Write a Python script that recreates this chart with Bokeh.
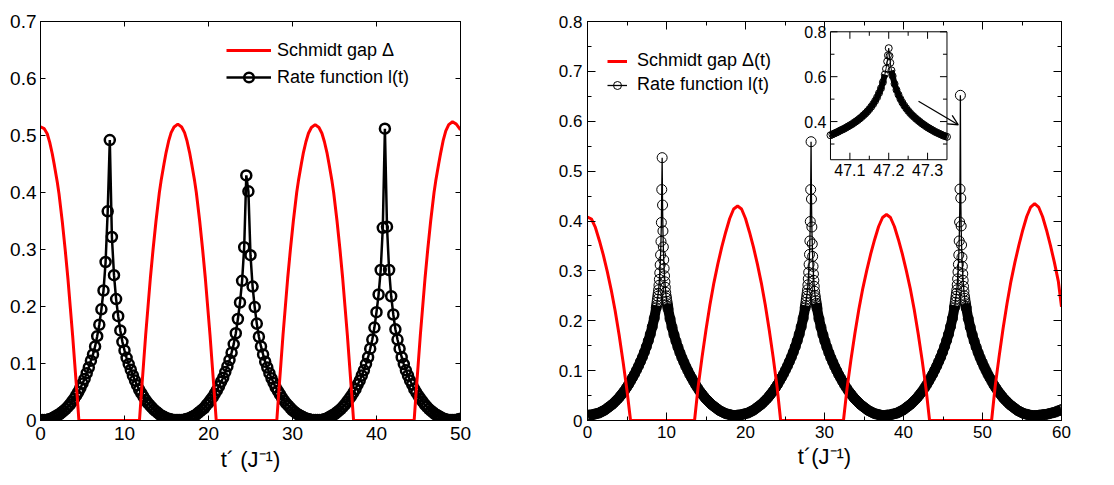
import numpy as np
from bokeh.plotting import figure
from bokeh.layouts import row
from bokeh.models import (Range1d, LinearAxis, FixedTicker, SingleIntervalTicker,
                          CustomJSTickFormatter, Legend, LegendItem, Arrow, OpenHead)
from bokeh.embed import file_html
from bokeh.resources import INLINE
from bokeh.core.properties import value

FONT = "Liberation Sans"

# ---------------- left panel data ----------------
GAP_L_T = [0, 0.45, 0.8, 1.1, 1.4, 1.65, 2.0, 2.2, 2.6, 2.95, 3.27, 3.55, 3.83, 4.08, 4.33, 4.57,
           11.78, 12.02, 12.27, 12.52, 12.8, 13.08, 13.4, 13.75, 14.15, 14.35, 14.7, 14.95, 15.25, 15.55, 15.9,
           16.35, 16.8, 17.15, 17.45, 17.75, 18.0, 18.35, 18.55, 18.95, 19.3, 19.62, 19.9, 20.18, 20.43, 20.68, 20.92,
           28.13, 28.37, 28.62, 28.87, 29.15, 29.43, 29.75, 30.1, 30.5, 30.7, 31.05, 31.3, 31.6, 31.9, 32.25,
           32.7, 33.15, 33.5, 33.8, 34.1, 34.35, 34.7, 34.9, 35.3, 35.65, 35.97, 36.25, 36.53, 36.78, 37.03, 37.27,
           44.48, 44.72, 44.97, 45.22, 45.5, 45.78, 46.1, 46.45, 46.85, 47.05, 47.4, 47.65, 47.95, 48.25, 48.6,
           49.05, 49.5, 50.0]
GAP_L = [0.515, 0.512, 0.503, 0.488, 0.468, 0.448, 0.418, 0.398, 0.348, 0.298, 0.248, 0.198, 0.148, 0.099, 0.05, 0.0,
         0, 0.05, 0.1, 0.15, 0.2, 0.25, 0.3, 0.35, 0.4, 0.42, 0.45, 0.47, 0.49, 0.505, 0.515,
         0.52, 0.515, 0.505, 0.49, 0.47, 0.45, 0.42, 0.4, 0.35, 0.3, 0.25, 0.2, 0.15, 0.1, 0.05, 0,
         0, 0.05, 0.1, 0.15, 0.2, 0.25, 0.3, 0.35, 0.4, 0.42, 0.45, 0.47, 0.489, 0.504, 0.514,
         0.519, 0.514, 0.504, 0.489, 0.47, 0.45, 0.42, 0.4, 0.35, 0.3, 0.25, 0.2, 0.15, 0.1, 0.05, 0,
         0, 0.05, 0.1, 0.15, 0.2, 0.25, 0.3, 0.35, 0.4, 0.42, 0.45, 0.47, 0.492, 0.508, 0.519,
         0.524, 0.52, 0.51]

RATE_L_T = [0, 0.25, 0.5, 0.75, 1, 1.25, 1.5, 1.75,
            2, 2.25, 2.5, 2.75, 3, 3.25, 3.5, 3.75,
            4, 4.25, 4.5, 4.75, 5, 5.25, 5.5, 5.75,
            6, 6.25, 6.5, 6.75, 7, 7.25, 7.5, 7.75,
            8, 8.25, 8.5, 8.75, 9, 9.25, 9.5, 9.75,
            10, 10.25, 10.5, 10.75, 11, 11.25, 11.5, 11.75,
            12, 12.25, 12.5, 12.75, 13, 13.25, 13.5, 13.75,
            14, 14.25, 14.5, 14.75, 15, 15.25, 15.5, 15.75,
            16, 16.25, 16.5, 16.75, 17, 17.25, 17.5, 17.75,
            18, 18.25, 18.5, 18.75, 19, 19.25, 19.5, 19.75,
            20, 20.25, 20.5, 20.75, 21, 21.25, 21.5, 21.75,
            22, 22.25, 22.5, 22.75, 23, 23.25, 23.5, 23.75,
            24, 24.25, 24.5, 24.75, 25, 25.25, 25.5, 25.75,
            26, 26.25, 26.5, 26.75, 27, 27.25, 27.5, 27.75,
            28, 28.25, 28.5, 28.75, 29, 29.25, 29.5, 29.75,
            30, 30.25, 30.5, 30.75, 31, 31.25, 31.5, 31.75,
            32, 32.25, 32.5, 32.75, 33, 33.25, 33.5, 33.75,
            34, 34.25, 34.5, 34.75, 35, 35.25, 35.5, 35.75,
            36, 36.25, 36.5, 36.75, 37, 37.25, 37.5, 37.75,
            38, 38.25, 38.5, 38.75, 39, 39.25, 39.5, 39.75,
            40, 40.25, 40.5, 40.75, 41, 41.25, 41.5, 41.75,
            42, 42.25, 42.5, 42.75, 43, 43.25, 43.5, 43.75,
            44, 44.25, 44.5, 44.75, 45, 45.25, 45.5, 45.75,
            46, 46.25, 46.5, 46.75, 47, 47.25, 47.5, 47.75,
            48, 48.25, 48.5, 48.75, 49, 49.25, 49.5, 49.75,
            50]
RATE_L = [0.001, 0.001, 0.001, 0.001, 0.002, 0.003, 0.005, 0.007,
          0.009, 0.011, 0.014, 0.017, 0.020, 0.024, 0.028, 0.033,
          0.038, 0.044, 0.050, 0.057, 0.065, 0.073, 0.083, 0.093,
          0.105, 0.116, 0.130, 0.148, 0.168, 0.195, 0.228, 0.278,
          0.367, 0.492, 0.322, 0.255, 0.213, 0.183, 0.158, 0.138,
          0.123, 0.110, 0.099, 0.089, 0.079, 0.070, 0.062, 0.054,
          0.048, 0.042, 0.036, 0.031, 0.027, 0.023, 0.019, 0.016,
          0.013, 0.010, 0.008, 0.006, 0.004, 0.003, 0.002, 0.001,
          0.001, 0.001, 0.001, 0.001, 0.001, 0.002, 0.003, 0.004,
          0.006, 0.008, 0.010, 0.013, 0.016, 0.019, 0.022, 0.027,
          0.031, 0.036, 0.041, 0.047, 0.053, 0.060, 0.068, 0.075,
          0.085, 0.095, 0.106, 0.119, 0.134, 0.153, 0.178, 0.207,
          0.245, 0.304, 0.430, 0.402, 0.290, 0.235, 0.199, 0.170,
          0.147, 0.130, 0.116, 0.103, 0.093, 0.083, 0.074, 0.066,
          0.058, 0.052, 0.046, 0.040, 0.035, 0.030, 0.026, 0.022,
          0.018, 0.015, 0.012, 0.010, 0.008, 0.006, 0.004, 0.003,
          0.002, 0.001, 0.001, 0.001, 0.001, 0.001, 0.001, 0.002,
          0.003, 0.005, 0.007, 0.009, 0.011, 0.014, 0.017, 0.020,
          0.024, 0.028, 0.033, 0.038, 0.043, 0.049, 0.055, 0.063,
          0.070, 0.079, 0.088, 0.099, 0.111, 0.126, 0.142, 0.163,
          0.190, 0.221, 0.264, 0.338, 0.512, 0.340, 0.264, 0.218,
          0.186, 0.160, 0.142, 0.126, 0.111, 0.099, 0.088, 0.079,
          0.070, 0.063, 0.055, 0.049, 0.043, 0.038, 0.033, 0.028,
          0.024, 0.020, 0.017, 0.014, 0.011, 0.009, 0.007, 0.005,
          0.003, 0.002, 0.001, 0.001, 0.001, 0.001, 0.001, 0.002,
          0.003]
X_TICKS_L = [0, 10, 20, 30, 40, 50]
Y_TICKS_L = [0, 0.1, 0.2, 0.3, 0.4, 0.5, 0.6, 0.7]

# ---------------- right panel data ----------------
GAP_R_T = [0, 0.5, 1.0, 1.5, 2.0, 2.5, 3.0, 3.5, 4.0, 4.5, 5.0, 5.45,
           13.55, 14.0, 14.5, 15.0, 15.5, 16.0, 16.5, 17.0, 17.5, 18.0, 18.5, 19.0, 19.5, 20.0, 20.5, 21.0,
           21.5, 22.0, 22.5, 23.0, 23.5, 24.0, 24.45,
           32.4, 32.85, 33.35, 33.85, 34.35, 34.85, 35.35, 35.85, 36.35, 36.85, 37.35, 37.85, 38.35, 38.85,
           39.35, 39.85, 40.35, 40.85, 41.35, 41.85, 42.35, 42.85, 43.3,
           51.15, 51.6, 52.1, 52.6, 53.1, 53.6, 54.1, 54.6, 55.1, 55.6, 56.1, 56.6, 57.1, 57.6, 58.1, 58.6,
           59.1, 59.6, 60.0]
GAP_R = [0.408, 0.404, 0.387, 0.361, 0.332, 0.299, 0.262, 0.220, 0.172, 0.118, 0.060, 0.0,
         0, 0.067, 0.127, 0.182, 0.232, 0.276, 0.314, 0.348, 0.378, 0.405, 0.424, 0.430, 0.424, 0.405, 0.378, 0.348,
         0.314, 0.276, 0.232, 0.182, 0.127, 0.067, 0,
         0, 0.064, 0.122, 0.175, 0.223, 0.265, 0.301, 0.334, 0.363, 0.389, 0.407, 0.413, 0.407, 0.389,
         0.363, 0.334, 0.301, 0.265, 0.223, 0.175, 0.122, 0.064, 0,
         0, 0.068, 0.128, 0.184, 0.234, 0.279, 0.317, 0.351, 0.382, 0.409, 0.428, 0.435, 0.428, 0.409, 0.382, 0.351,
         0.317, 0.279, 0.228]

RATE_R_T = [
    # 0 .. first cusp
    0, 0.2, 0.45, 0.7, 0.95, 1.2, 1.45, 1.7, 1.95, 2.2, 2.45, 2.7, 2.95, 3.2, 3.45, 3.7, 3.95, 4.2, 4.45,
    4.7, 4.95, 5.2, 5.45, 5.7, 5.95, 6.2, 6.45, 6.7, 6.95, 7.2, 7.45, 7.7, 7.95, 8.2, 8.45, 8.7,
    8.75, 8.8, 8.85, 8.9, 8.95,
    # cusp 1
    9.0, 9.05, 9.1, 9.15, 9.2, 9.25, 9.3, 9.35, 9.4, 9.45, 9.5, 9.55, 9.6, 9.65, 9.7, 9.75, 9.8, 9.85, 9.9,
    # between cusp 1 and 2
    9.95, 10.0, 10.05, 10.1, 10.15,
    10.2, 10.45, 10.7, 10.95, 11.2, 11.45, 11.7, 11.95, 12.2, 12.45, 12.7, 12.95, 13.2, 13.45, 13.7,
    13.95, 14.2, 14.45, 14.7, 14.95, 15.2, 15.45, 15.7, 15.95, 16.2, 16.45, 16.7, 16.95, 17.2, 17.45, 17.7,
    17.95, 18.2, 18.45, 18.7,
    19.05, 19.3, 19.55, 19.8, 20.05, 20.3, 20.55, 20.8, 21.05, 21.3, 21.55, 21.8, 22.05, 22.3, 22.55, 22.8,
    23.05, 23.3, 23.55, 23.8, 24.05, 24.3, 24.55, 24.8, 25.05, 25.3, 25.55, 25.8, 26.05, 26.3, 26.55, 26.8,
    27.05, 27.3, 27.55, 27.6, 27.65, 27.7, 27.75, 27.8,
    # cusp 2
    27.85, 27.9, 27.95, 28.0, 28.05, 28.1, 28.15, 28.2, 28.25, 28.3, 28.35, 28.4, 28.45, 28.5, 28.55, 28.6,
    28.65, 28.7, 28.75,
    # between cusp 2 and 3
    28.8, 28.85, 28.9, 28.95, 29.0,
    29.05, 29.3, 29.55, 29.8, 30.05, 30.3, 30.55, 30.8, 31.05, 31.3, 31.55, 31.8, 32.05, 32.3, 32.55,
    32.8, 33.05, 33.3, 33.55, 33.8, 34.05, 34.3, 34.55, 34.8, 35.05, 35.3, 35.55, 35.8, 36.05, 36.3, 36.55,
    36.8, 37.05, 37.3, 37.55,
    37.95, 38.2, 38.45, 38.7, 38.95, 39.2, 39.45, 39.7, 39.95, 40.2, 40.45, 40.7, 40.95, 41.2, 41.45, 41.7,
    41.95, 42.2, 42.45, 42.7, 42.95, 43.2, 43.45, 43.7, 43.95, 44.2, 44.45, 44.7, 44.95, 45.2, 45.45, 45.7,
    45.95, 46.2, 46.45, 46.5, 46.55, 46.6, 46.65, 46.7,
    # cusp 3
    46.75, 46.8, 46.85, 46.9, 46.95, 47.0, 47.05, 47.1, 47.15, 47.2, 47.25, 47.3, 47.35, 47.4, 47.45, 47.5,
    47.55, 47.6, 47.65,
    # after cusp 3
    47.7, 47.75, 47.8, 47.85, 47.9,
    47.95, 48.2, 48.45, 48.7, 48.95, 49.2, 49.45, 49.7, 49.95, 50.2, 50.45, 50.7, 50.95, 51.2, 51.45,
    51.7, 51.95, 52.2, 52.45, 52.7, 52.95, 53.2, 53.45, 53.7, 53.95, 54.2, 54.45, 54.7, 54.95, 55.2, 55.45,
    55.7, 55.95, 56.2, 56.45,
    56.75, 57.0, 57.25, 57.5, 57.75, 58.0, 58.25, 58.5, 58.75, 59.0, 59.25, 59.5, 59.75, 60.0]
RATE_R = [
    0.010, 0.011, 0.011, 0.012, 0.013, 0.014, 0.015, 0.017, 0.019, 0.021, 0.024, 0.027, 0.030, 0.033, 0.037, 0.041,
    0.045, 0.050, 0.055, 0.060, 0.066, 0.072, 0.079, 0.086, 0.093, 0.101, 0.109, 0.118, 0.127, 0.137, 0.148, 0.160,
    0.173, 0.188, 0.205, 0.226,
    0.231, 0.237, 0.243, 0.249, 0.255,
    0.262, 0.271, 0.283, 0.296, 0.312, 0.332, 0.359, 0.397, 0.463, 0.527, 0.432, 0.380, 0.348, 0.322, 0.305, 0.290,
    0.278, 0.267, 0.257,
    0.250, 0.245, 0.239, 0.234, 0.229,
    0.224, 0.204, 0.187, 0.172, 0.159, 0.147, 0.136, 0.126, 0.117, 0.108, 0.100, 0.092, 0.085, 0.078, 0.071,
    0.065, 0.059, 0.054, 0.049, 0.044, 0.040, 0.036, 0.032, 0.029, 0.026, 0.023, 0.020, 0.018, 0.016, 0.014, 0.013,
    0.012, 0.011, 0.010, 0.010,
    0.011, 0.011, 0.012, 0.013, 0.014, 0.015, 0.017, 0.019, 0.021, 0.024, 0.027, 0.030, 0.033, 0.037, 0.041, 0.045,
    0.050, 0.055, 0.060, 0.066, 0.072, 0.079, 0.086, 0.093, 0.101, 0.109, 0.118, 0.127, 0.137, 0.148, 0.160, 0.173,
    0.188, 0.205, 0.226, 0.231, 0.237, 0.243, 0.249, 0.255,
    0.262, 0.272, 0.284, 0.297, 0.313, 0.333, 0.360, 0.399, 0.463, 0.559, 0.444, 0.388, 0.354, 0.329, 0.309, 0.294,
    0.281, 0.269, 0.259,
    0.251, 0.246, 0.240, 0.235, 0.230,
    0.225, 0.204, 0.187, 0.172, 0.159, 0.147, 0.136, 0.126, 0.117, 0.108, 0.100, 0.092, 0.085, 0.078, 0.071,
    0.065, 0.059, 0.054, 0.049, 0.044, 0.040, 0.036, 0.032, 0.029, 0.026, 0.023, 0.020, 0.018, 0.016, 0.014, 0.013,
    0.012, 0.011, 0.010, 0.010,
    0.011, 0.011, 0.012, 0.013, 0.014, 0.015, 0.017, 0.019, 0.021, 0.024, 0.027, 0.030, 0.033, 0.037, 0.041, 0.045,
    0.050, 0.055, 0.060, 0.066, 0.072, 0.079, 0.086, 0.093, 0.101, 0.109, 0.118, 0.127, 0.137, 0.148, 0.160, 0.173,
    0.188, 0.205, 0.226, 0.231, 0.237, 0.243, 0.249, 0.255,
    0.262, 0.272, 0.284, 0.298, 0.313, 0.332, 0.360, 0.398, 0.464, 0.652, 0.446, 0.390, 0.352, 0.327, 0.309, 0.294,
    0.281, 0.269, 0.259,
    0.250, 0.245, 0.239, 0.234, 0.229,
    0.225, 0.204, 0.187, 0.172, 0.159, 0.147, 0.136, 0.126, 0.117, 0.108, 0.100, 0.092, 0.085, 0.078, 0.071,
    0.065, 0.059, 0.054, 0.049, 0.044, 0.040, 0.036, 0.032, 0.029, 0.026, 0.023, 0.020, 0.018, 0.016, 0.014, 0.013,
    0.012, 0.011, 0.010, 0.010,
    0.010, 0.010, 0.011, 0.011, 0.012, 0.012, 0.013, 0.014, 0.015, 0.016, 0.017, 0.019, 0.020, 0.022]

INSET_T = [47.05, 47.055, 47.06, 47.065, 47.07, 47.075, 47.08, 47.085, 47.09, 47.095, 47.1, 47.105, 47.11,
           47.115, 47.12, 47.125, 47.13, 47.135, 47.14, 47.145, 47.15, 47.155, 47.16, 47.165, 47.17, 47.175,
           47.18, 47.185, 47.19, 47.193, 47.196, 47.198, 47.2, 47.202, 47.204, 47.207, 47.21,
           47.215, 47.22, 47.225, 47.23, 47.235, 47.24, 47.245, 47.25, 47.255, 47.26, 47.265, 47.27, 47.275,
           47.28, 47.285, 47.29, 47.295, 47.3, 47.305, 47.31, 47.315, 47.32, 47.325, 47.33, 47.335, 47.34,
           47.345, 47.35]
INSET_RATE = [0.339, 0.343, 0.347, 0.351, 0.355, 0.360, 0.364, 0.368, 0.373, 0.378, 0.383, 0.388, 0.394,
              0.400, 0.406, 0.413, 0.420, 0.428, 0.436, 0.445, 0.455, 0.466, 0.478, 0.492, 0.508, 0.527,
              0.548, 0.575, 0.610, 0.635, 0.668, 0.695, 0.727, 0.692, 0.662, 0.628, 0.603,
              0.568, 0.541, 0.520, 0.501, 0.485, 0.471, 0.459, 0.448, 0.438, 0.429, 0.421, 0.413, 0.406,
              0.399, 0.392, 0.386, 0.380, 0.374, 0.369, 0.364, 0.359, 0.354, 0.350, 0.346, 0.342, 0.338,
              0.335, 0.332]
INSET_X_MAJOR = [47.1, 47.2, 47.3]
INSET_X_MINOR = [47.15, 47.25]
INSET_Y_MAJOR = [0.4, 0.6, 0.8]
INSET_Y_MINOR = [0.3, 0.5, 0.7]
INSET_X_LIM = (47.05, 47.35)
INSET_Y_LIM = (0.23, 0.8)
ARROW_FROM = (41.9, 0.64)
ARROW_TO = (46.93, 0.593)

# ---------------- helpers ----------------
YFMT = "return Math.abs(tick) < 1e-9 ? '0' : tick.toFixed(1);"
BLANK = "return '';"


def style_axis(ax, size, tick_in, minor_in=0, labels=True):
    ax.major_tick_in = tick_in
    ax.major_tick_out = 0
    ax.minor_tick_in = minor_in
    ax.minor_tick_out = 0
    ax.axis_line_color = "black"
    ax.major_tick_line_color = "black"
    ax.minor_tick_line_color = "black" if minor_in else None
    ax.major_label_text_font = FONT
    ax.major_label_text_color = "black"
    ax.major_label_text_font_size = size
    if not labels:
        ax.formatter = CustomJSTickFormatter(code=BLANK)
        ax.major_label_standoff = 0
    ax.axis_label_text_font = FONT
    ax.axis_label_text_font_style = "normal"
    ax.axis_label_text_color = "black"
    ax.axis_label_text_font_size = "22px"


# ---------------- left figure ----------------
p1 = figure(width=555, height=485, x_range=Range1d(0, 50), y_range=Range1d(0, 0.7),
            output_backend="svg", toolbar_location=None,
            min_border_left=40, min_border_right=95, min_border_top=15, min_border_bottom=65)
p1.grid.visible = False
p1.outline_line_color = "black"
p1.background_fill_color = "white"
p1.border_fill_color = "white"
p1.xaxis.ticker = FixedTicker(ticks=X_TICKS_L)
p1.yaxis.ticker = FixedTicker(ticks=Y_TICKS_L)
p1.yaxis.formatter = CustomJSTickFormatter(code=YFMT)
style_axis(p1.xaxis[0], "19px", 5)
style_axis(p1.yaxis[0], "19px", 5)
p1.xaxis.major_label_standoff = 6
p1.yaxis.major_label_standoff = 4
p1.xaxis.axis_label = "t\u00b4 (J\u207b\u00b9)"
p1.xaxis.axis_label_standoff = 4
top1 = LinearAxis(ticker=FixedTicker(ticks=X_TICKS_L))
right1 = LinearAxis(ticker=FixedTicker(ticks=Y_TICKS_L))
style_axis(top1, "19px", 5, labels=False)
style_axis(right1, "19px", 5, labels=False)
p1.add_layout(top1, "above")
p1.add_layout(right1, "right")

r_rate_l = p1.line(RATE_L_T, RATE_L, line_color="black", line_width=2.5)
s_rate_l = p1.scatter(RATE_L_T, RATE_L, marker="circle", size=10, fill_color=None,
                      line_color="black", line_width=2.5)
r_gap_l = p1.line(GAP_L_T, GAP_L, line_color="red", line_width=3)

# legend placement (px from the frame's bottom-left corner to the legend's bottom-left corner)
leg1 = Legend(items=[LegendItem(label="Schmidt gap \u0394", renderers=[r_gap_l]),
                     LegendItem(label="Rate function l(t)", renderers=[r_rate_l, s_rate_l])],
              location=(186, 331), border_line_color=None, background_fill_alpha=0,
              padding=0, margin=0, glyph_width=45, glyph_height=24, label_height=24,
              label_standoff=6, spacing=3, label_text_font=FONT, label_text_font_size="18px",
              label_text_color="black")
p1.add_layout(leg1)

# ---------------- right figure ----------------
FW_R, FH_R = 476, 407
INSET_PX = (244, 361, 10.5, 141)  # left, right, top, bottom inside the frame (px)

p2 = figure(width=559, height=485, x_range=Range1d(0, 60), y_range=Range1d(0, 0.8),
            output_backend="svg", toolbar_location=None,
            min_border_left=30, min_border_right=53, min_border_top=21, min_border_bottom=57)
p2.grid.visible = False
p2.outline_line_color = "black"
p2.background_fill_color = "white"
p2.border_fill_color = "white"
p2.xaxis.ticker = SingleIntervalTicker(interval=10, num_minor_ticks=2)
p2.yaxis.ticker = SingleIntervalTicker(interval=0.1, num_minor_ticks=2)
p2.yaxis.formatter = CustomJSTickFormatter(code=YFMT)
style_axis(p2.xaxis[0], "17px", 8, 4)
style_axis(p2.yaxis[0], "17px", 8, 4)
p2.xaxis.major_label_standoff = 5
p2.yaxis.major_label_standoff = 5
p2.xaxis.axis_label = "t\u00b4(J\u207b\u00b9)"
p2.xaxis.axis_label_standoff = 3
top2 = LinearAxis(ticker=SingleIntervalTicker(interval=10, num_minor_ticks=2))
right2 = LinearAxis(ticker=SingleIntervalTicker(interval=0.1, num_minor_ticks=2))
style_axis(top2, "17px", 8, 4, labels=False)
style_axis(right2, "17px", 8, 4, labels=False)
p2.add_layout(top2, "above")
p2.add_layout(right2, "right")

rate_r = np.array(RATE_R, dtype=float)
band_r = np.where(rate_r <= 0.236, rate_r, np.nan)
p2.line(RATE_R_T, band_r, line_color="black", line_width=10)
r_rate_r = p2.line(RATE_R_T, RATE_R, line_color="black", line_width=1.3)
s_rate_r = p2.scatter(RATE_R_T, RATE_R, marker="circle", size=10, fill_color=None,
                      line_color="black", line_width=1)
r_gap_r = p2.line(GAP_R_T, GAP_R, line_color="red", line_width=3)

leg2 = Legend(items=[LegendItem(label="Schmidt gap \u0394(t)", renderers=[r_gap_r]),
                     LegendItem(label="Rate function l(t)", renderers=[r_rate_r, s_rate_r])],
              location=(20, 325), border_line_color=None, background_fill_alpha=0,
              padding=0, margin=0, glyph_width=20, glyph_height=20, label_height=20,
              label_standoff=10, spacing=3, label_text_font=FONT, label_text_font_size="18px",
              label_text_color="black")
p2.add_layout(leg2)

p2.add_layout(Arrow(end=OpenHead(size=10, line_width=1.3, line_color="black"),
                    x_start=ARROW_FROM[0], y_start=ARROW_FROM[1],
                    x_end=ARROW_TO[0], y_end=ARROW_TO[1], line_width=1.3, line_color="black"))

# inset drawn in its own coordinate system mapped onto a sub-box of the frame
sx = (INSET_X_LIM[1] - INSET_X_LIM[0]) / (INSET_PX[1] - INSET_PX[0])
sy = (INSET_Y_LIM[1] - INSET_Y_LIM[0]) / (INSET_PX[3] - INSET_PX[2])
p2.extra_x_ranges = {"ix": Range1d(INSET_X_LIM[0] - INSET_PX[0] * sx,
                                   INSET_X_LIM[1] + (FW_R - INSET_PX[1]) * sx)}
p2.extra_y_ranges = {"iy": Range1d(INSET_Y_LIM[0] - (FH_R - INSET_PX[3]) * sy,
                                   INSET_Y_LIM[1] + INSET_PX[2] * sy)}
kw = dict(x_range_name="ix", y_range_name="iy")
p2.quad(left=[INSET_X_LIM[0]], right=[INSET_X_LIM[1]], bottom=[INSET_Y_LIM[0]], top=[INSET_Y_LIM[1]],
        fill_color="white", line_color="black", line_width=1, **kw)

inset_rate = np.array(INSET_RATE, dtype=float)
p2.line(INSET_T, np.where(inset_rate <= 0.63, inset_rate, np.nan), line_color="black", line_width=6, **kw)
p2.line(INSET_T, INSET_RATE, line_color="black", line_width=1, **kw)
p2.scatter(INSET_T, INSET_RATE, marker="circle", size=7, fill_color=None, line_color="black",
           line_width=1, **kw)

half_pi = np.pi / 2
for ticks, ln in ((INSET_X_MAJOR, 7), (INSET_X_MINOR, 4)):
    p2.ray(x=ticks, y=[INSET_Y_LIM[0]] * len(ticks), length=ln, length_units="screen",
           angle=half_pi, line_color="black", line_width=1, **kw)
    p2.ray(x=ticks, y=[INSET_Y_LIM[1]] * len(ticks), length=ln, length_units="screen",
           angle=-half_pi, line_color="black", line_width=1, **kw)
for ticks, ln in ((INSET_Y_MAJOR, 7), (INSET_Y_MINOR, 4)):
    p2.ray(x=[INSET_X_LIM[0]] * len(ticks), y=ticks, length=ln, length_units="screen",
           angle=0, line_color="black", line_width=1, **kw)
    p2.ray(x=[INSET_X_LIM[1]] * len(ticks), y=ticks, length=ln, length_units="screen",
           angle=np.pi, line_color="black", line_width=1, **kw)

p2.text(x=INSET_X_MAJOR, y=[INSET_Y_LIM[0]] * len(INSET_X_MAJOR),
        text=[f"{v:g}" for v in INSET_X_MAJOR], text_align="center", text_baseline="top",
        y_offset=4, text_font=value(FONT), text_font_size="16px", text_color="black", **kw)
p2.text(x=[INSET_X_LIM[0]] * len(INSET_Y_MAJOR), y=INSET_Y_MAJOR,
        text=[f"{v:g}" for v in INSET_Y_MAJOR], text_align="right", text_baseline="middle",
        x_offset=-4, text_font=value(FONT), text_font_size="16px", text_color="black", **kw)

layout = row(p1, p2)
open("out.html", "w").write(file_html(layout, INLINE))
